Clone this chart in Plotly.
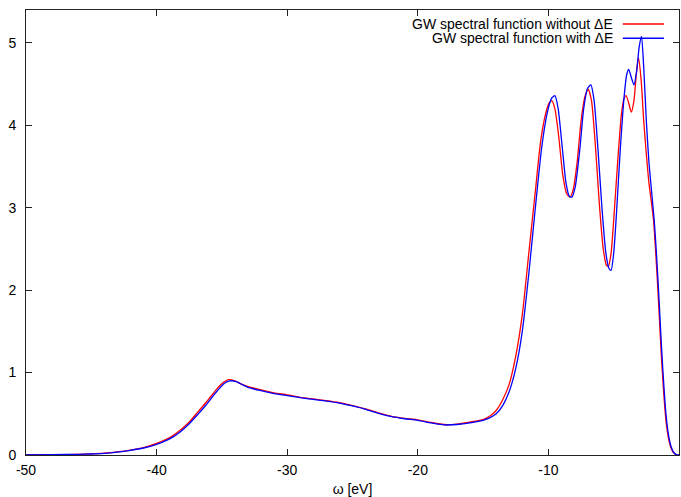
import plotly.graph_objects as go

# ---- data ----
x_red = [-50, -48, -46, -45, -44, -43, -42, -41, -40, -39, -38.2, -37.5, -36.8, -36.2, -35.4, -34.9,
         -34.5, -34, -33.5, -33, -32, -31, -30, -29, -28, -27, -26, -25, -24, -23, -22, -21, -20,
         -19, -18, -17, -16, -15, -14.5, -14, -13.5, -13, -12.5, -12, -11.5, -11, -10.6, -10.2,
         -9.95, -9.75, -9.5, -9.2, -8.9, -8.6, -8.35, -8.1, -7.8, -7.5, -7.2, -6.95, -6.7, -6.4,
         -6.1, -5.8, -5.55, -5.4, -5.2, -5.0, -4.7, -4.4, -4.2, -4.05, -3.85, -3.65, -3.45, -3.25,
         -3.1, -2.9, -2.7, -2.5, -2.3, -2.1, -1.95, -1.8, -1.65, -1.5, -1.35, -1.2, -1.0, -0.8,
         -0.6, -0.4, -0.2, 0]
y_red = [0.002, 0.004, 0.008, 0.013, 0.022, 0.038, 0.06, 0.09, 0.14, 0.21, 0.30, 0.40, 0.53, 0.64,
         0.80, 0.88, 0.915, 0.90, 0.86, 0.83, 0.79, 0.755, 0.73, 0.70, 0.68, 0.66, 0.635, 0.60,
         0.56, 0.51, 0.47, 0.445, 0.425, 0.395, 0.37, 0.375, 0.40, 0.43, 0.47, 0.54, 0.67, 0.86,
         1.2, 1.7, 2.45, 3.2, 3.8, 4.15, 4.27, 4.30, 4.2, 3.85, 3.4, 3.17, 3.13, 3.22, 3.55, 4.05,
         4.35, 4.44, 4.3, 3.75, 3.05, 2.5, 2.3, 2.29, 2.45, 2.85, 3.55, 4.15, 4.33, 4.36, 4.27,
         4.16, 4.3, 4.65, 4.82, 4.55, 4.05, 3.65, 3.3, 3.05, 2.85, 2.5, 2.1, 1.65, 1.2, 0.82,
         0.42, 0.2, 0.08, 0.025, 0.005, 0]

x_blue = [-50, -48, -46, -45, -44, -43, -42, -41, -40, -39, -38.2, -37.5, -36.8, -36.2, -35.4, -34.8,
          -34.4, -33.9, -33.4, -33, -32, -31, -30, -29, -28, -27, -26, -25, -24, -23, -22, -21, -20,
          -19, -18, -17, -16, -15, -14.5, -14, -13.5, -13, -12.5, -12, -11.5, -11, -10.5, -10.05,
          -9.75, -9.5, -9.25, -8.95, -8.65, -8.4, -8.2, -7.95, -7.6, -7.3, -7.0, -6.75, -6.5, -6.2,
          -5.9, -5.6, -5.35, -5.2, -5.0, -4.8, -4.5, -4.2, -4.0, -3.85, -3.65, -3.45, -3.25, -3.05,
          -2.87, -2.7, -2.5, -2.3, -2.1, -1.9, -1.75, -1.6, -1.45, -1.3, -1.15, -1.0, -0.8, -0.6,
          -0.4, -0.2, 0]
y_blue = [0.002, 0.004, 0.008, 0.012, 0.02, 0.035, 0.057, 0.085, 0.13, 0.195, 0.28, 0.38, 0.5, 0.61,
          0.77, 0.87, 0.9, 0.89, 0.85, 0.82, 0.78, 0.745, 0.72, 0.695, 0.675, 0.655, 0.63, 0.595,
          0.555, 0.505, 0.465, 0.44, 0.42, 0.39, 0.365, 0.37, 0.39, 0.42, 0.45, 0.5, 0.6, 0.77,
          1.05, 1.5, 2.2, 3.0, 3.75, 4.18, 4.33, 4.36, 4.2, 3.75, 3.3, 3.14, 3.13, 3.25, 3.7, 4.2,
          4.45, 4.49, 4.3, 3.7, 3.0, 2.45, 2.26, 2.24, 2.45, 2.9, 3.7, 4.35, 4.62, 4.68, 4.58,
          4.49, 4.65, 4.95, 5.08, 4.7, 4.05, 3.55, 3.2, 2.85, 2.5, 2.1, 1.65, 1.2, 0.82, 0.5,
          0.24, 0.1, 0.03, 0.006, 0]

series_names = ["GW spectral function without \u0394E", "GW spectral function with \u0394E"]
series_colors = ["#ff0000", "#0000ff"]

x_ticks = [-50, -40, -30, -20, -10, 0]
y_ticks = [0, 1, 2, 3, 4, 5]
x_title = "\u03c9 [eV]"

FONT = "Liberation Sans, Arial, Helvetica, sans-serif"

fig = go.Figure()
for xs, ys, name, col in [(x_red, y_red, series_names[0], series_colors[0]),
                          (x_blue, y_blue, series_names[1], series_colors[1])]:
    fig.add_trace(go.Scatter(x=xs, y=ys, mode="lines", name=name,
                             line=dict(color=col, width=1.3, shape="spline", smoothing=0.6)))

# gnuplot-style key: text right-aligned, sample line to the right
key_y = [0.9685, 0.9365]
for name, col, ky in zip(series_names, series_colors, key_y):
    fig.add_annotation(x=0.9015, y=ky, xref="paper", yref="paper", text=name,
                       showarrow=False, xanchor="right", yanchor="middle",
                       font=dict(family=FONT, size=14, color="#000"))
    fig.add_shape(type="line", xref="paper", yref="paper", x0=0.914, x1=0.977, y0=ky, y1=ky,
                  line=dict(color=col, width=1.3))

axis_common = dict(showline=True, mirror="ticks", linecolor="#222", linewidth=1,
                   ticks="inside", ticklen=6, tickcolor="#222", tickwidth=1,
                   showgrid=False, zeroline=False, automargin=False,
                   tickfont=dict(family=FONT, size=14, color="#000"))

fig.update_layout(
    width=681, height=497,
    margin=dict(l=26, r=2, t=10, b=42),
    paper_bgcolor="white", plot_bgcolor="white",
    showlegend=False,
    xaxis=dict(range=[-50, 0], tickvals=x_ticks, ticktext=[str(v) for v in x_ticks],
               ticklabelstandoff=2,
               title=dict(text=x_title, font=dict(family=FONT, size=14, color="#000"), standoff=8),
               **axis_common),
    yaxis=dict(range=[0, 5.4], tickvals=y_ticks, ticktext=[str(v) for v in y_ticks],
               ticklabelstandoff=6,
               **axis_common),
)

fig.write_html("out.html", config={"displayModeBar": False},
               post_script="document.body.style.margin='0px';document.body.style.overflow='hidden';")
